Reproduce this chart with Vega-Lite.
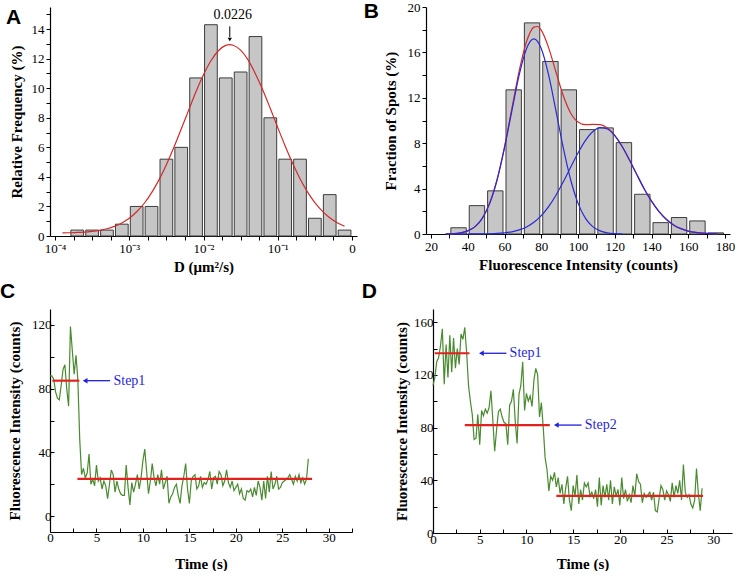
{
"$schema":"https://vega.github.io/schema/vega-lite/v6.json",
"background":"white",
"padding":{"left":0,"top":1,"right":0,"bottom":0},
"datasets":{
"abars":[{"D":0.0001995,"f":0.4},{"D":0.0003162,"f":0.4},{"D":0.0005012,"f":0.4},{"D":0.0007943,"f":0.8},{"D":0.001259,"f":2},{"D":0.001995,"f":2},{"D":0.003162,"f":5.2},{"D":0.005012,"f":6},{"D":0.007943,"f":10.7},{"D":0.01259,"f":14.3},{"D":0.01995,"f":10.7},{"D":0.03162,"f":11.1},{"D":0.05012,"f":13.5},{"D":0.07943,"f":8},{"D":0.1259,"f":5.2},{"D":0.1995,"f":5.2},{"D":0.3162,"f":1.2},{"D":0.5012,"f":2.8},{"D":0.7943,"f":0.4}],
"afit":[{"D":0.0001259,"f":0.21},{"D":0.0001585,"f":0.22},{"D":0.0001995,"f":0.24},{"D":0.0002512,"f":0.26},{"D":0.0003162,"f":0.31},{"D":0.0003981,"f":0.38},{"D":0.0005012,"f":0.49},{"D":0.000631,"f":0.65},{"D":0.0007943,"f":0.88},{"D":0.001,"f":1.2},{"D":0.001259,"f":1.64},{"D":0.001585,"f":2.2},{"D":0.001995,"f":2.92},{"D":0.002512,"f":3.8},{"D":0.003162,"f":4.83},{"D":0.003981,"f":5.99},{"D":0.005012,"f":7.24},{"D":0.00631,"f":8.52},{"D":0.007943,"f":9.78},{"D":0.01,"f":10.91},{"D":0.01259,"f":11.86},{"D":0.01585,"f":12.54},{"D":0.01995,"f":12.9},{"D":0.0226,"f":12.95},{"D":0.02512,"f":12.91},{"D":0.03162,"f":12.58},{"D":0.03981,"f":11.92},{"D":0.05012,"f":10.97},{"D":0.0631,"f":9.87},{"D":0.07943,"f":8.63},{"D":0.1,"f":7.34},{"D":0.1259,"f":6.09},{"D":0.1585,"f":4.92},{"D":0.1995,"f":3.88},{"D":0.2512,"f":2.99},{"D":0.3162,"f":2.26},{"D":0.3981,"f":1.68},{"D":0.5012,"f":1.23},{"D":0.631,"f":0.9},{"D":0.7943,"f":0.66}],
"aarrow":[{"D":0.0226,"f":14.19,"f2":13.45}],
"atip":[{"D":0.0226,"f":13.3}],
"atext":[{"D":0.0226,"f":14.98,"label":"0.0226"}],
"bbars":[{"I":35,"f":0.55},{"I":45,"f":2.5},{"I":55,"f":3.8},{"I":65,"f":12.7},{"I":75,"f":18.6},{"I":85,"f":15.2},{"I":95,"f":12.7},{"I":105,"f":9.2},{"I":115,"f":9.35},{"I":125,"f":8.05},{"I":135,"f":3.5},{"I":145,"f":1.0},{"I":155,"f":1.45},{"I":165,"f":1.15},{"I":175,"f":0.1}],
"bsum":[{"I":28,"f":0.011},{"I":32,"f":0.035},{"I":36,"f":0.104},{"I":40,"f":0.274},{"I":44,"f":0.653},{"I":48,"f":1.41},{"I":52,"f":2.75},{"I":56,"f":4.83},{"I":60,"f":7.68},{"I":64,"f":11.04},{"I":68,"f":14.37},{"I":72,"f":16.96},{"I":74,"f":17.78},{"I":76,"f":18.23},{"I":78,"f":18.28},{"I":80,"f":17.96},{"I":84,"f":16.42},{"I":88,"f":14.27},{"I":92,"f":12.18},{"I":96,"f":10.66},{"I":100,"f":9.86},{"I":104,"f":9.63},{"I":108,"f":9.66},{"I":112,"f":9.64},{"I":116,"f":9.35},{"I":120,"f":8.7},{"I":124,"f":7.73},{"I":128,"f":6.52},{"I":132,"f":5.24},{"I":136,"f":3.99},{"I":140,"f":2.89},{"I":144,"f":1.99},{"I":148,"f":1.3},{"I":152,"f":0.8},{"I":156,"f":0.47},{"I":160,"f":0.26},{"I":164,"f":0.14},{"I":168,"f":0.07},{"I":172,"f":0.03},{"I":176,"f":0.015}],
"bg1":[{"I":28,"f":0.011},{"I":32,"f":0.035},{"I":36,"f":0.103},{"I":40,"f":0.272},{"I":44,"f":0.649},{"I":48,"f":1.4},{"I":52,"f":2.72},{"I":56,"f":4.78},{"I":60,"f":7.58},{"I":64,"f":10.85},{"I":68,"f":14.01},{"I":72,"f":16.34},{"I":74,"f":16.98},{"I":76,"f":17.2},{"I":78,"f":16.98},{"I":80,"f":16.34},{"I":84,"f":14.01},{"I":88,"f":10.85},{"I":92,"f":7.58},{"I":96,"f":4.78},{"I":100,"f":2.72},{"I":104,"f":1.4},{"I":108,"f":0.649},{"I":112,"f":0.272},{"I":116,"f":0.103},{"I":120,"f":0.035},{"I":124,"f":0.011}],
"bg2":[{"I":32,"f":0.0002},{"I":36,"f":0.0006},{"I":40,"f":0.002},{"I":44,"f":0.004},{"I":48,"f":0.01},{"I":52,"f":0.023},{"I":56,"f":0.049},{"I":60,"f":0.1},{"I":64,"f":0.19},{"I":68,"f":0.36},{"I":72,"f":0.62},{"I":76,"f":1.03},{"I":80,"f":1.62},{"I":84,"f":2.41},{"I":88,"f":3.42},{"I":92,"f":4.6},{"I":96,"f":5.88},{"I":100,"f":7.14},{"I":104,"f":8.23},{"I":108,"f":9.01},{"I":112,"f":9.37},{"I":116,"f":9.25},{"I":120,"f":8.67},{"I":124,"f":7.71},{"I":128,"f":6.52},{"I":132,"f":5.24},{"I":136,"f":3.99},{"I":140,"f":2.89},{"I":144,"f":1.99},{"I":148,"f":1.3},{"I":152,"f":0.8},{"I":156,"f":0.47},{"I":160,"f":0.26},{"I":164,"f":0.14},{"I":168,"f":0.07},{"I":172,"f":0.03},{"I":176,"f":0.015}],
"ctrace":[{"t":0,"v":88},{"t":0.2,"v":88},{"t":0.4,"v":86},{"t":0.6,"v":78},{"t":0.8,"v":74},{"t":1,"v":73},{"t":1.2,"v":82},{"t":1.4,"v":92},{"t":1.6,"v":95},{"t":1.8,"v":80},{"t":2,"v":69},{"t":2.2,"v":119},{"t":2.4,"v":104},{"t":2.6,"v":89},{"t":2.8,"v":101},{"t":3,"v":85},{"t":3.2,"v":48},{"t":3.4,"v":26},{"t":3.6,"v":30},{"t":3.8,"v":24},{"t":4,"v":27},{"t":4.2,"v":39},{"t":4.4,"v":20},{"t":4.6,"v":23},{"t":4.8,"v":19},{"t":5,"v":32},{"t":5.2,"v":22},{"t":5.4,"v":24},{"t":5.6,"v":17},{"t":5.8,"v":22},{"t":6,"v":19},{"t":6.2,"v":11},{"t":6.4,"v":20},{"t":6.6,"v":29},{"t":6.8,"v":26},{"t":7,"v":15},{"t":7.2,"v":22},{"t":7.4,"v":17},{"t":7.6,"v":14},{"t":7.8,"v":13},{"t":8,"v":13},{"t":8.2,"v":32},{"t":8.4,"v":18},{"t":8.6,"v":7},{"t":8.8,"v":21},{"t":9,"v":15},{"t":9.2,"v":20},{"t":9.4,"v":26},{"t":9.6,"v":17},{"t":9.8,"v":24},{"t":10,"v":35},{"t":10.2,"v":42},{"t":10.4,"v":28},{"t":10.6,"v":14},{"t":10.8,"v":22},{"t":11,"v":33},{"t":11.2,"v":24},{"t":11.4,"v":19},{"t":11.6,"v":26},{"t":11.8,"v":20},{"t":12,"v":29},{"t":12.2,"v":17},{"t":12.4,"v":21},{"t":12.6,"v":25},{"t":12.8,"v":8},{"t":13,"v":12},{"t":13.2,"v":14},{"t":13.4,"v":18},{"t":13.6,"v":20},{"t":13.8,"v":13},{"t":14,"v":8},{"t":14.2,"v":19},{"t":14.4,"v":25},{"t":14.6,"v":33},{"t":14.8,"v":17},{"t":15,"v":8},{"t":15.2,"v":22},{"t":15.4,"v":25},{"t":15.6,"v":26},{"t":15.8,"v":17},{"t":16,"v":19},{"t":16.2,"v":25},{"t":16.4,"v":18},{"t":16.6,"v":21},{"t":16.8,"v":20},{"t":17,"v":23},{"t":17.2,"v":28},{"t":17.4,"v":17},{"t":17.6,"v":24},{"t":17.8,"v":25},{"t":18,"v":20},{"t":18.2,"v":28},{"t":18.4,"v":26},{"t":18.6,"v":19},{"t":18.8,"v":22},{"t":19,"v":29},{"t":19.2,"v":21},{"t":19.4,"v":18},{"t":19.6,"v":22},{"t":19.8,"v":16},{"t":20,"v":18},{"t":20.2,"v":20},{"t":20.4,"v":14},{"t":20.6,"v":17},{"t":20.8,"v":11},{"t":21,"v":10},{"t":21.2,"v":16},{"t":21.4,"v":15},{"t":21.6,"v":17},{"t":21.8,"v":12},{"t":22,"v":18},{"t":22.2,"v":13},{"t":22.4,"v":22},{"t":22.6,"v":18},{"t":22.8,"v":10},{"t":23,"v":22},{"t":23.2,"v":11},{"t":23.4,"v":25},{"t":23.6,"v":15},{"t":23.8,"v":28},{"t":24,"v":17},{"t":24.2,"v":20},{"t":24.4,"v":25},{"t":24.6,"v":17},{"t":24.8,"v":18},{"t":25,"v":21},{"t":25.2,"v":22},{"t":25.4,"v":23},{"t":25.6,"v":24},{"t":25.8,"v":26},{"t":26,"v":23},{"t":26.2,"v":20},{"t":26.4,"v":25},{"t":26.6,"v":22},{"t":26.8,"v":26},{"t":27,"v":21},{"t":27.2,"v":24},{"t":27.4,"v":20},{"t":27.6,"v":23},{"t":27.8,"v":36}],
"csteps":[{"t":0.25,"t2":3.16,"v":85},{"t":2.95,"t2":28.2,"v":23.3}],
"carrow":[{"t":3.78,"t2":6.47,"v":85}],
"ctext":[{"t":6.83,"v":85,"label":"Step1"}],
"dtrace":[{"t":0,"v":112},{"t":0.2,"v":118},{"t":0.4,"v":130},{"t":0.6,"v":133},{"t":0.8,"v":142},{"t":1,"v":155},{"t":1.2,"v":113},{"t":1.4,"v":143},{"t":1.6,"v":118},{"t":1.8,"v":150},{"t":2,"v":122},{"t":2.2,"v":148},{"t":2.4,"v":125},{"t":2.6,"v":140},{"t":2.8,"v":128},{"t":3,"v":151},{"t":3.2,"v":147},{"t":3.4,"v":156},{"t":3.6,"v":137},{"t":3.8,"v":112},{"t":4,"v":100},{"t":4.2,"v":90},{"t":4.4,"v":71},{"t":4.6,"v":72},{"t":4.8,"v":90},{"t":5,"v":67},{"t":5.2,"v":93},{"t":5.4,"v":89},{"t":5.6,"v":94},{"t":5.8,"v":91},{"t":6,"v":95},{"t":6.2,"v":108},{"t":6.4,"v":86},{"t":6.6,"v":62},{"t":6.8,"v":78},{"t":7,"v":92},{"t":7.2,"v":94},{"t":7.4,"v":88},{"t":7.6,"v":84},{"t":7.8,"v":83},{"t":8,"v":67},{"t":8.2,"v":97},{"t":8.4,"v":100},{"t":8.6,"v":109},{"t":8.8,"v":85},{"t":9,"v":68},{"t":9.2,"v":105},{"t":9.4,"v":112},{"t":9.6,"v":130},{"t":9.8,"v":93},{"t":10,"v":106},{"t":10.2,"v":100},{"t":10.4,"v":104},{"t":10.6,"v":96},{"t":10.8,"v":116},{"t":11,"v":125},{"t":11.2,"v":120},{"t":11.4,"v":88},{"t":11.6,"v":99},{"t":11.8,"v":80},{"t":12,"v":57},{"t":12.2,"v":48},{"t":12.4,"v":32},{"t":12.6,"v":43},{"t":12.8,"v":40},{"t":13,"v":46},{"t":13.2,"v":35},{"t":13.4,"v":42},{"t":13.6,"v":30},{"t":13.8,"v":37},{"t":14,"v":22},{"t":14.2,"v":34},{"t":14.4,"v":43},{"t":14.6,"v":25},{"t":14.8,"v":17},{"t":15,"v":36},{"t":15.2,"v":28},{"t":15.4,"v":44},{"t":15.6,"v":22},{"t":15.8,"v":33},{"t":16,"v":25},{"t":16.2,"v":38},{"t":16.4,"v":35},{"t":16.6,"v":38},{"t":16.8,"v":28},{"t":17,"v":31},{"t":17.2,"v":26},{"t":17.4,"v":33},{"t":17.6,"v":20},{"t":17.8,"v":42},{"t":18,"v":21},{"t":18.2,"v":36},{"t":18.4,"v":27},{"t":18.6,"v":37},{"t":18.8,"v":25},{"t":19,"v":40},{"t":19.2,"v":22},{"t":19.4,"v":35},{"t":19.6,"v":28},{"t":19.8,"v":33},{"t":20,"v":21},{"t":20.2,"v":42},{"t":20.4,"v":26},{"t":20.6,"v":33},{"t":20.8,"v":24},{"t":21,"v":29},{"t":21.2,"v":23},{"t":21.4,"v":36},{"t":21.6,"v":28},{"t":21.8,"v":45},{"t":22,"v":39},{"t":22.2,"v":37},{"t":22.4,"v":23},{"t":22.6,"v":30},{"t":22.8,"v":27},{"t":23,"v":29},{"t":23.2,"v":31},{"t":23.4,"v":25},{"t":23.6,"v":31},{"t":23.8,"v":17},{"t":24,"v":16},{"t":24.2,"v":26},{"t":24.4,"v":36},{"t":24.6,"v":33},{"t":24.8,"v":25},{"t":25,"v":32},{"t":25.2,"v":29},{"t":25.4,"v":24},{"t":25.6,"v":38},{"t":25.8,"v":27},{"t":26,"v":36},{"t":26.2,"v":30},{"t":26.4,"v":40},{"t":26.6,"v":25},{"t":26.8,"v":52},{"t":27,"v":31},{"t":27.2,"v":27},{"t":27.4,"v":29},{"t":27.6,"v":22},{"t":27.8,"v":19},{"t":28,"v":25},{"t":28.2,"v":49},{"t":28.4,"v":30},{"t":28.6,"v":17},{"t":28.8,"v":34}],
"dsteps":[{"t":0.18,"t2":3.9,"v":136.4},{"t":3.4,"t2":12.5,"v":81.9},{"t":13.2,"t2":28.9,"v":28.1}],
"darrow":[{"t":5.18,"t2":7.86,"v":136.4},{"t":13.2,"t2":15.9,"v":81.9}],
"dtext":[{"t":8.2,"v":136.4,"label":"Step1"},{"t":16.25,"v":81.9,"label":"Step2"}]
},
"vconcat":[
{"hconcat":[
{"width":307,"height":229,
 "title":{"text":"A","dx":-44,"offset":-21.4},
 "encoding":{
  "x":{"field":"D","type":"quantitative","title":"D (μm²/s)","scale":{"type":"log","domain":[0.0001,1],"nice":false},
       "axis":{"values":[0.0001,0.0001778,0.0003162,0.0005623,0.001,0.001778,0.003162,0.005623,0.01,0.01778,0.03162,0.05623,0.1,0.1778,0.3162,0.5623,1],
               "labelExpr":"datum.value === 0.0001 ? '10⁻⁴' : datum.value === 0.001 ? '10⁻³' : datum.value === 0.01 ? '10⁻²' : datum.value === 0.1 ? '10⁻¹' : datum.value === 1 ? '0' : ''","titlePadding":4}},
  "y":{"field":"f","type":"quantitative","title":"Relative Frequency (%)","scale":{"domain":[0,15.5],"nice":false},
       "axis":{"values":[0,1,2,3,4,5,6,7,8,9,10,11,12,13,14,15],"labelExpr":"datum.value % 2 === 0 ? datum.label : ''","titlePadding":7}}
 },
 "layer":[
  {"data":{"name":"abars"},"mark":{"type":"bar","size":12.7,"fill":"#c6c6c6","stroke":"#3c3c3c","strokeWidth":1}},
  {"data":{"name":"afit"},"mark":{"type":"line","color":"#d42a2a","strokeWidth":1.2,"interpolate":"monotone"}},
  {"data":{"name":"aarrow"},"mark":{"type":"rule","color":"#000","strokeWidth":1},"encoding":{"y2":{"field":"f2"}}},
  {"data":{"name":"atip"},"mark":{"type":"point","shape":"triangle-down","filled":true,"color":"#000","opacity":1,"size":18}},
  {"data":{"name":"atext"},"mark":{"type":"text","font":"Liberation Serif, Times New Roman, serif","fontSize":14,"dx":3,"baseline":"middle","color":"#000"},"encoding":{"text":{"field":"label"}}}
 ]
},
{"width":304,"height":227,
 "title":{"text":"B","dx":-62.3,"offset":-21.4},
 "encoding":{
  "x":{"field":"I","type":"quantitative","title":"Fluorescence Intensity (counts)","scale":{"domain":[20,180],"nice":false},
       "axis":{"values":[20,30,40,50,60,70,80,90,100,110,120,130,140,150,160,170,180],"labelExpr":"datum.value % 20 === 0 ? datum.label : ''","titlePadding":4}},
  "y":{"field":"f","type":"quantitative","title":"Fraction of Spots (%)","scale":{"domain":[0,20],"nice":false},
       "axis":{"values":[0,2,4,6,8,10,12,14,16,18,20],"labelExpr":"datum.value % 4 === 0 ? datum.label : ''","titlePadding":9}}
 },
 "layer":[
  {"data":{"name":"bbars"},"mark":{"type":"bar","size":15.4,"fill":"#c6c6c6","stroke":"#3c3c3c","strokeWidth":1}},
  {"data":{"name":"bsum"},"mark":{"type":"line","color":"#d42a2a","strokeWidth":1.2,"interpolate":"monotone"}},
  {"data":{"name":"bg1"},"mark":{"type":"line","color":"#2a2ad4","strokeWidth":1.2,"interpolate":"monotone"}},
  {"data":{"name":"bg2"},"mark":{"type":"line","color":"#2a2ad4","strokeWidth":1.2,"interpolate":"monotone"}}
 ]
}
],"spacing":6},
{"hconcat":[
{"width":302,"height":223,
 "title":{"text":"C","dx":-50,"offset":6.6},
 "encoding":{
  "x":{"field":"t","type":"quantitative","title":"Time (s)","scale":{"domain":[0,32.5],"nice":false},
       "axis":{"values":[0,2.5,5,7.5,10,12.5,15,17.5,20,22.5,25,27.5,30,32.5],"labelExpr":"datum.value % 5 === 0 ? datum.label : ''","tickSize":-4,"labelPadding":3,"titlePadding":12}},
  "y":{"field":"v","type":"quantitative","title":"Fluorescence Intensity (counts)","scale":{"domain":[-10,130],"nice":false},
       "axis":{"values":[0,20,40,60,80,100,120],"labelExpr":"datum.value % 40 === 0 ? datum.label : ''","tickSize":-4,"labelPadding":3,"titlePadding":9}}
 },
 "layer":[
  {"data":{"name":"ctrace"},"mark":{"type":"line","color":"#4a8a30","strokeWidth":1.2}},
  {"data":{"name":"csteps"},"mark":{"type":"rule","color":"#e3221e","strokeWidth":2.2},"encoding":{"x2":{"field":"t2"}}},
  {"data":{"name":"carrow"},"mark":{"type":"rule","color":"#1f1fe0","strokeWidth":1.3},"encoding":{"x2":{"field":"t2"}}},
  {"data":{"name":"carrow"},"mark":{"type":"point","shape":"triangle-left","filled":true,"color":"#1f1fe0","opacity":1,"size":30}},
  {"data":{"name":"ctext"},"mark":{"type":"text","font":"Liberation Serif, Times New Roman, serif","fontSize":14,"align":"left","baseline":"middle","color":"#1f1fe0"},"encoding":{"text":{"field":"label"}}}
 ]
},
{"width":299,"height":224,
 "title":{"text":"D","dx":-71.3,"offset":6.6},
 "encoding":{
  "x":{"field":"t","type":"quantitative","title":"Time (s)","scale":{"domain":[0,32],"nice":false},
       "axis":{"values":[0,2.5,5,7.5,10,12.5,15,17.5,20,22.5,25,27.5,30],"labelExpr":"datum.value % 5 === 0 ? datum.label : ''","tickSize":-4,"labelPadding":4,"titlePadding":10}},
  "y":{"field":"v","type":"quantitative","title":"Fluorescence Intensity (counts)","scale":{"domain":[0,170],"nice":false},
       "axis":{"values":[0,20,40,60,80,100,120,140,160],"labelExpr":"datum.value % 40 === 0 ? datum.label : ''","tickSize":-4,"labelPadding":4,"titlePadding":4}}
 },
 "layer":[
  {"data":{"name":"dtrace"},"mark":{"type":"line","color":"#4a8a30","strokeWidth":1.2}},
  {"data":{"name":"dsteps"},"mark":{"type":"rule","color":"#e3221e","strokeWidth":2.2},"encoding":{"x2":{"field":"t2"}}},
  {"data":{"name":"darrow"},"mark":{"type":"rule","color":"#1f1fe0","strokeWidth":1.3},"encoding":{"x2":{"field":"t2"}}},
  {"data":{"name":"darrow"},"mark":{"type":"point","shape":"triangle-left","filled":true,"color":"#1f1fe0","opacity":1,"size":30}},
  {"data":{"name":"dtext"},"mark":{"type":"text","font":"Liberation Serif, Times New Roman, serif","fontSize":14,"align":"left","baseline":"middle","color":"#1f1fe0"},"encoding":{"text":{"field":"label"}}}
 ]
}
],"spacing":8}
],
"spacing":7,
"config":{
 "view":{"stroke":null},
 "axis":{"grid":false,"domainColor":"#000","domainWidth":1.2,"tickColor":"#000","labelColor":"#000","titleColor":"#000","labelFont":"Liberation Serif, Times New Roman, serif","titleFont":"Liberation Serif, Times New Roman, serif","labelFontSize":13,"titleFontSize":15,"titleFontWeight":"bold","labelFlush":false,"labelOverlap":false,"tickSize":4,"labelPadding":2},
 "title":{"font":"Liberation Sans, Arial, sans-serif","fontSize":21,"fontWeight":"bold","color":"#000","anchor":"start","frame":"group","baseline":"alphabetic"}
}
}
